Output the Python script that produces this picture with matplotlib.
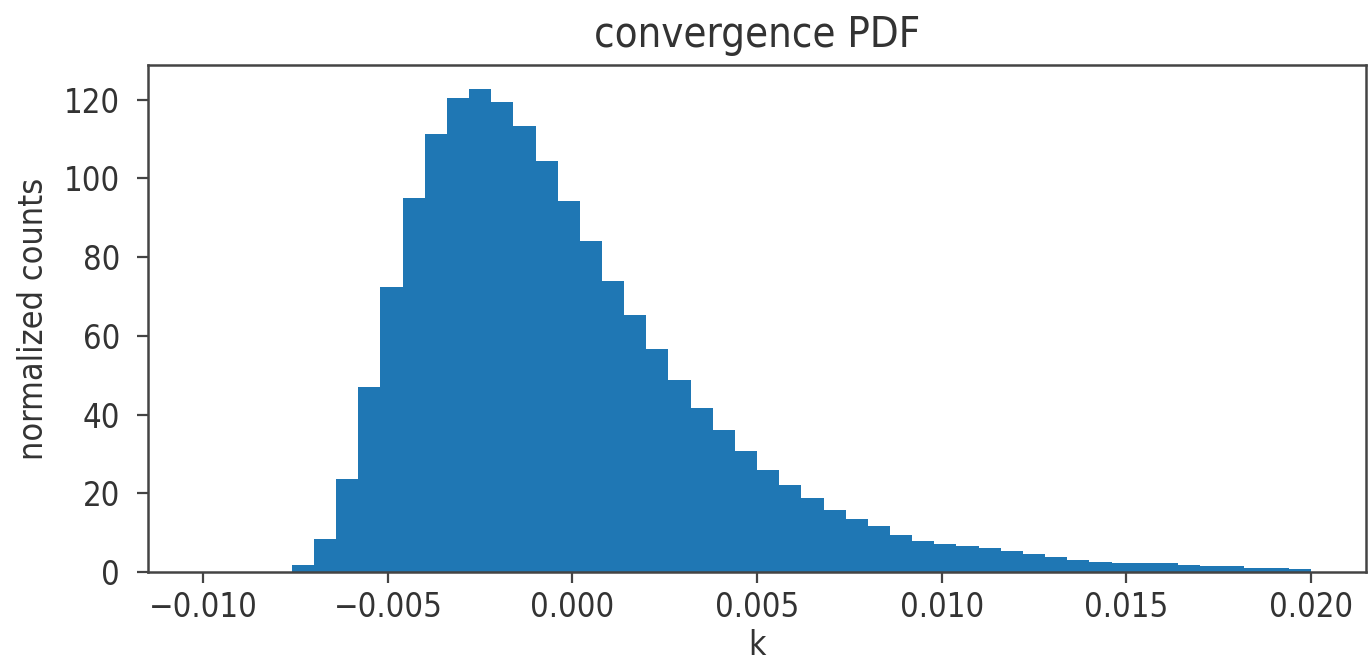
import matplotlib
matplotlib.use("Agg")
import matplotlib.pyplot as plt
import numpy as np

plt.rcParams["font.family"] = ["DejaVu Sans"]
plt.rcParams["font.stretch"] = "condensed"

# histogram of convergence k: 50 bins between -0.010 and 0.020
bin_lo = -0.010
bin_hi = 0.020
n_bins = 50
pdf_values = [
    0.0, 0.0, 0.0, 0.0, 1.7, 8.3, 23.7, 47.1, 72.4, 95.1,
    111.4, 120.4, 122.7, 119.5, 113.3, 104.5, 94.4, 84.1, 73.9, 65.3,
    56.6, 48.8, 41.7, 36.2, 30.7, 26.0, 22.1, 18.7, 15.8, 13.4,
    11.7, 9.4, 7.9, 7.2, 6.6, 6.0, 5.3, 4.5, 3.8, 3.0,
    2.5, 2.4, 2.3, 2.2, 1.7, 1.6, 1.5, 1.0, 0.9, 0.8,
]

edges = np.linspace(bin_lo, bin_hi, n_bins + 1)

fig, ax = plt.subplots(figsize=(13.69, 6.6), dpi=100)
fig.subplots_adjust(left=0.108, right=0.998, top=0.9015, bottom=0.1333)

ax.hist(edges[:-1], bins=edges, weights=pdf_values, color="#1f77b4")

ax.set_title("convergence PDF", fontsize=30, color="#333333", pad=13)
ax.set_xlabel("k", fontsize=24, color="#333333", labelpad=3)
ax.set_ylabel("normalized counts", fontsize=24.5, color="#333333", labelpad=10)
ax.set_yticks([0, 20, 40, 60, 80, 100, 120])
ax.set_xticks([-0.010, -0.005, 0.000, 0.005, 0.010, 0.015, 0.020])
ax.tick_params(labelsize=23.5, labelcolor="#333333", length=8, width=1.6,
               color="#444444")
ax.tick_params(axis="x", pad=6)
ax.tick_params(axis="y", pad=12)
for spine in ax.spines.values():
    spine.set_linewidth(1.8)
    spine.set_color("#444444")

fig.savefig("out.png", dpi=100)
